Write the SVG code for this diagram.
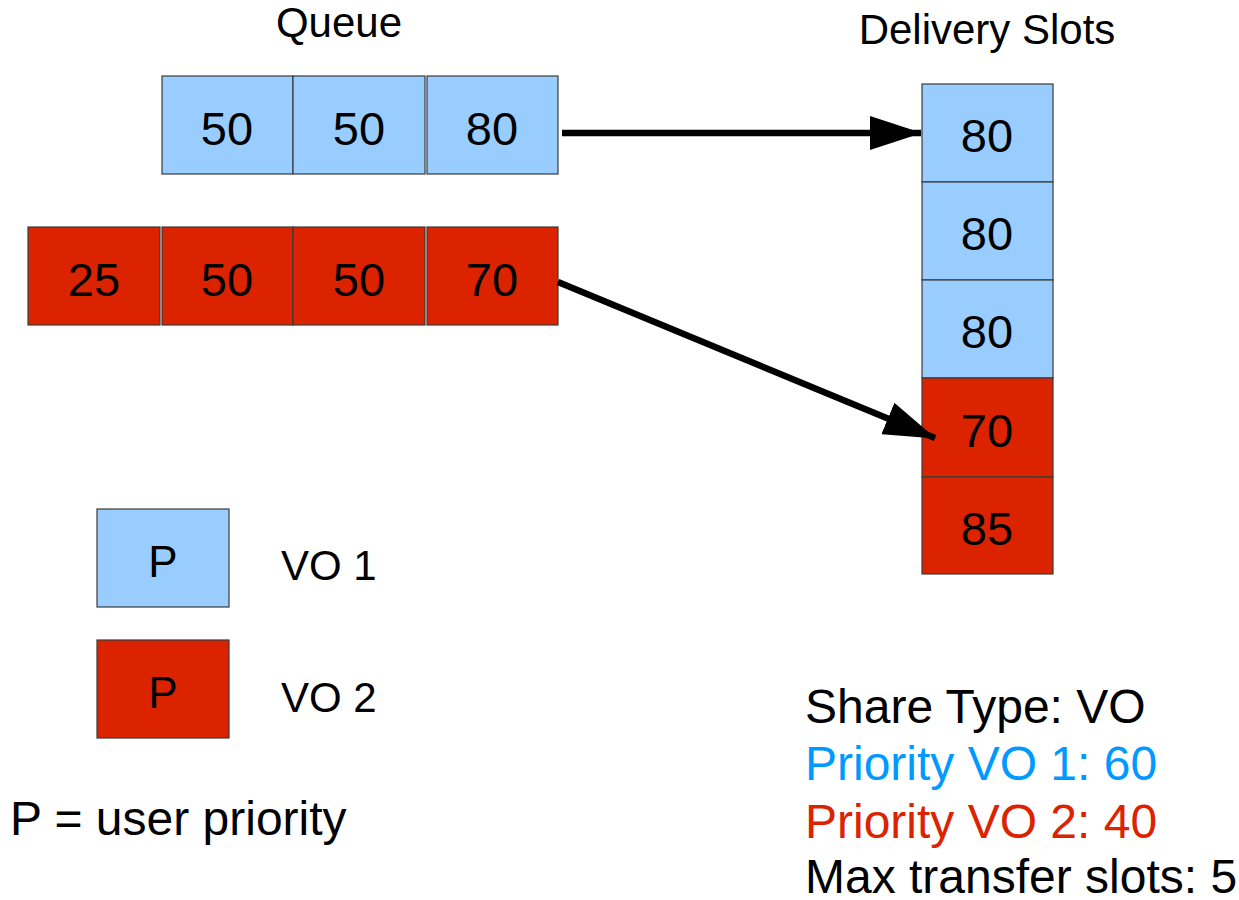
<svg xmlns="http://www.w3.org/2000/svg" width="1239" height="900" viewBox="0 0 1239 900">
  <style>
    text { font-family: "Liberation Sans", Arial, sans-serif; fill: #000; }
    .vo1 { fill: #99ccff; stroke: #3a3a3a; stroke-width: 1.2; }
    .vo2 { fill: #dc2300; stroke: #3a3a3a; stroke-width: 1.2; }
    .num { font-size: 47px; text-anchor: middle; }
    .title { font-size: 42px; text-anchor: middle; }
    .big { font-size: 48px; }
    .leg { font-size: 42px; }
    .conn { stroke: #000; stroke-width: 6.5; fill: none; }
  </style>
  <defs>
    <marker id="head" markerUnits="userSpaceOnUse" markerWidth="52" markerHeight="34" refX="51" refY="17" orient="auto">
      <path d="M0,0 L52,17 L0,34 Z" fill="#000"/>
    </marker>
  </defs>

  <rect width="1239" height="900" fill="#fff"/>

  <!-- titles -->
  <text class="title" x="339" y="37">Queue</text>
  <text class="title" x="987" y="44">Delivery Slots</text>

  <!-- VO 1 queue -->
  <g id="queue-vo1">
    <rect class="vo1" x="162" y="76" width="131" height="98"/>
    <text class="num" x="227" y="145">50</text>
    <rect class="vo1" x="293" y="76" width="132" height="98"/>
    <text class="num" x="359" y="145">50</text>
    <rect class="vo1" x="427" y="76" width="131" height="98"/>
    <text class="num" x="492" y="145">80</text>
  </g>

  <!-- VO 2 queue -->
  <g id="queue-vo2">
    <rect class="vo2" x="28" y="227" width="132" height="98"/>
    <text class="num" x="94" y="296">25</text>
    <rect class="vo2" x="162" y="227" width="131" height="98"/>
    <text class="num" x="227" y="296">50</text>
    <rect class="vo2" x="293" y="227" width="132" height="98"/>
    <text class="num" x="359" y="296">50</text>
    <rect class="vo2" x="427" y="227" width="131" height="98"/>
    <text class="num" x="492" y="296">70</text>
  </g>

  <!-- delivery slots -->
  <g id="slots">
    <rect class="vo1" x="922" y="84" width="131" height="98"/>
    <text class="num" x="987" y="152">80</text>
    <rect class="vo1" x="922" y="182" width="131" height="98"/>
    <text class="num" x="987" y="250">80</text>
    <rect class="vo1" x="922" y="280" width="131" height="98"/>
    <text class="num" x="987" y="348">80</text>
    <rect class="vo2" x="922" y="378" width="131" height="99"/>
    <text class="num" x="987" y="447">70</text>
    <rect class="vo2" x="922" y="477" width="131" height="97"/>
    <text class="num" x="987" y="545">85</text>
  </g>

  <!-- connectors -->
  <g id="connectors">
    <line class="conn" x1="562" y1="133" x2="921" y2="133" marker-end="url(#head)"/>
    <line class="conn" x1="558" y1="282" x2="935" y2="438" marker-end="url(#head)"/>
  </g>

  <!-- legend -->
  <g id="legend-vo1">
    <rect class="vo1" x="97" y="509" width="132" height="98"/>
    <text class="leg" x="163" y="577" text-anchor="middle" style="font-size:44px">P</text>
    <text class="leg" x="281" y="580">VO 1</text>
  </g>
  <g id="legend-vo2">
    <rect class="vo2" x="97" y="640" width="132" height="98"/>
    <text class="leg" x="163" y="708" text-anchor="middle" style="font-size:44px">P</text>
    <text class="leg" x="281" y="712">VO 2</text>
  </g>
  <text class="big" x="10" y="835">P = user priority</text>

  <!-- share settings -->
  <g id="settings">
    <text class="big" x="805" y="723">Share Type: VO</text>
    <text class="big" x="805" y="780" style="fill:#0099ff">Priority VO 1: 60</text>
    <text class="big" x="805" y="838" style="fill:#dc2300">Priority VO 2: 40</text>
    <text class="big" x="805" y="893">Max transfer slots: 5</text>
  </g>
</svg>
